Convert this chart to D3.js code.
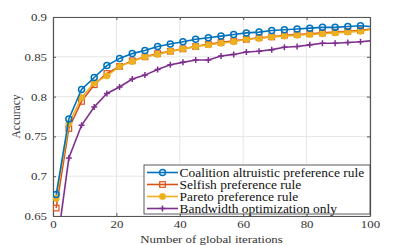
<!DOCTYPE html>
<html lang="en">
<head>
    <meta charset="UTF-8">
    <title>Accuracy vs global iterations</title>
    <script src="https://d3js.org/d3.v7.min.js"></script>
    <style>
        body { margin: 0; background: #fff; }
        text { font-family: "Liberation Serif", "Times New Roman", serif; }
    </style>
</head>
<body>
    <svg width="409" height="245"></svg>
    <script>
        // iterations where the markers sit (last one has no marker)
        const iters = [1, 5, 9, 13, 17, 21, 25, 29, 33, 37, 41, 45, 49, 53, 57, 61, 65, 69, 73, 77, 81, 85, 89, 93, 97, 100];

        const coalition = [0.677, 0.772, 0.809, 0.824, 0.839, 0.848, 0.854, 0.858, 0.863, 0.866, 0.869, 0.872, 0.874, 0.876, 0.878, 0.880, 0.881, 0.883, 0.884, 0.885, 0.886, 0.887, 0.887, 0.888, 0.889, 0.888];
        const selfish = [0.660, 0.760, 0.794, 0.815, 0.829, 0.838, 0.845, 0.850, 0.854, 0.857, 0.860, 0.863, 0.866, 0.868, 0.870, 0.872, 0.874, 0.875, 0.877, 0.878, 0.879, 0.880, 0.881, 0.882, 0.883, 0.885];
        const pareto = [0.672, 0.766, 0.799, 0.817, 0.826, 0.838, 0.844, 0.850, 0.853, 0.857, 0.860, 0.863, 0.865, 0.867, 0.869, 0.872, 0.873, 0.875, 0.876, 0.877, 0.878, 0.879, 0.880, 0.881, 0.882, 0.884];
        const bandwidth = [0.605, 0.723, 0.764, 0.787, 0.804, 0.812, 0.822, 0.827, 0.834, 0.840, 0.843, 0.846, 0.846, 0.851, 0.853, 0.856, 0.857, 0.859, 0.862, 0.863, 0.865, 0.867, 0.867, 0.868, 0.869, 0.870];

        const seriesNames = ["Coalition altruistic preference rule", "Selfish preference rule", "Pareto preference rule", "Bandwidth optimization only"];
        const xTicks = [0, 20, 40, 60, 80, 100];
        const yTicks = [0.65, 0.7, 0.75, 0.8, 0.85, 0.9];

        // the original picture is a bit wider than tall, so text gets stretched sideways
        const sx = 1.17;

        const svg = d3.select("svg"),
            margin = { top: 17, right: 39, bottom: 29, left: 53 },
            w = 409 - margin.left - margin.right,
            h = 245 - margin.top - margin.bottom,
            g = svg.append("g").attr("transform", `translate(${margin.left},${margin.top})`);

        const x = d3.scaleLinear().domain([0, 100]).range([0, w]),
            y = d3.scaleLinear().domain([0.65, 0.9]).range([h, 0]);

        // grid
        g.append("g").selectAll("line").data(xTicks).join("line")
            .attr("x1", d => x(d)).attr("x2", d => x(d)).attr("y1", 0).attr("y2", h)
            .attr("stroke", "#e6e6e6").attr("stroke-width", 1);
        g.append("g").selectAll("line").data(yTicks).join("line")
            .attr("x1", 0).attr("x2", w).attr("y1", d => y(d)).attr("y2", d => y(d))
            .attr("stroke", "#e6e6e6").attr("stroke-width", 1);

        // axes (MATLAB style, ticks pointing in)
        const axisColor = "#555";
        const xAxis = g.append("g").attr("transform", `translate(0,${h})`)
            .call(d3.axisBottom(x).tickValues(xTicks).tickSizeInner(-3).tickSizeOuter(0).tickPadding(4));
        const yAxis = g.append("g")
            .call(d3.axisLeft(y).tickValues(yTicks).tickFormat(d => +d.toFixed(2)).tickSizeInner(-3).tickSizeOuter(0).tickPadding(6));
        g.append("g")
            .call(d3.axisTop(x).tickValues(xTicks).tickFormat("").tickSizeInner(-3).tickSizeOuter(0));
        g.append("g").attr("transform", `translate(${w},0)`)
            .call(d3.axisRight(y).tickValues(yTicks).tickFormat("").tickSizeInner(-3).tickSizeOuter(0));
        g.selectAll(".domain, .tick line").attr("stroke", axisColor);
        g.selectAll(".domain").attr("stroke-width", 1.2);
        g.selectAll(".tick text").attr("fill", "#333").attr("font-size", 11)
            .attr("font-family", "Liberation Serif, Times New Roman, serif")
            .attr("transform", `scale(${sx},1)`);
        yAxis.selectAll(".tick text").attr("x", -6 / sx);

        // axis labels
        svg.append("g").attr("transform", `translate(${margin.left + w / 2},243) scale(${sx},1)`)
            .append("text")
            .attr("text-anchor", "middle").attr("font-size", 11).attr("fill", "#333")
            .text("Number of global iterations");
        svg.append("text")
            .attr("transform", `translate(20,${margin.top + h / 2}) rotate(-90) scale(1,${sx})`)
            .attr("text-anchor", "middle").attr("font-size", 11.5).attr("fill", "#333")
            .text("Accuracy");

        // clip
        svg.append("defs").append("clipPath").attr("id", "clip")
            .append("rect").attr("x", 0).attr("y", 0).attr("width", w).attr("height", h);

        const series = [
            { name: seriesNames[0], values: coalition, color: "#0072BD", marker: "circle" },
            { name: seriesNames[1], values: selfish, color: "#D95319", marker: "square" },
            { name: seriesNames[2], values: pareto, color: "#EDB120", marker: "dot" },
            { name: seriesNames[3], values: bandwidth, color: "#7E2F8E", marker: "plus" }
        ];

        const line = d3.line().x(d => x(d[0])).y(d => y(d[1]));

        function drawMarker(sel, type, color, cx, cy) {
            if (type === "circle") {
                sel.append("circle").attr("cx", cx).attr("cy", cy).attr("r", 3)
                    .attr("fill", "none").attr("stroke", color).attr("stroke-width", 1.5);
            } else if (type === "square") {
                sel.append("rect").attr("x", cx - 2.8).attr("y", cy - 2.8).attr("width", 5.6).attr("height", 5.6)
                    .attr("fill", "none").attr("stroke", color).attr("stroke-width", 1.2);
            } else if (type === "dot") {
                sel.append("circle").attr("cx", cx).attr("cy", cy).attr("r", 3.2)
                    .attr("fill", color).attr("stroke", color).attr("stroke-width", 0.5);
            } else {
                sel.append("path").attr("d", `M${cx - 3},${cy}H${cx + 3}M${cx},${cy - 3}V${cy + 3}`)
                    .attr("stroke", color).attr("stroke-width", 1.5);
            }
        }

        const plot = g.append("g").attr("clip-path", "url(#clip)");
        // bottom series first, blue ends up on top
        [3, 1, 2, 0].forEach(i => {
            const s = series[i];
            const pts = iters.map((it, j) => [it, s.values[j]]);
            plot.append("path").datum(pts).attr("d", line)
                .attr("fill", "none").attr("stroke", s.color).attr("stroke-width", 1.6);
            const mg = plot.append("g");
            pts.slice(0, -1).forEach(p => drawMarker(mg, s.marker, s.color, x(p[0]), y(p[1])));
        });

        // legend
        const lg = svg.append("g").attr("transform", "translate(144,165)");
        lg.append("rect").attr("x", 0).attr("y", 0).attr("width", 226).attr("height", 49)
            .attr("fill", "#fff").attr("stroke", "#333").attr("stroke-width", 0.8);
        series.forEach((s, i) => {
            const ly = 7.5 + i * 12;
            lg.append("line").attr("x1", 3).attr("x2", 34).attr("y1", ly).attr("y2", ly)
                .attr("stroke", s.color).attr("stroke-width", 1.6);
            drawMarker(lg, s.marker, s.color, 18.5, ly);
            lg.append("g").attr("transform", `translate(35.5,${ly + 4}) scale(1.17,1)`)
                .append("text").attr("font-size", 11.5).attr("fill", "#111").text(s.name);
        });
    </script>
</body>
</html>
